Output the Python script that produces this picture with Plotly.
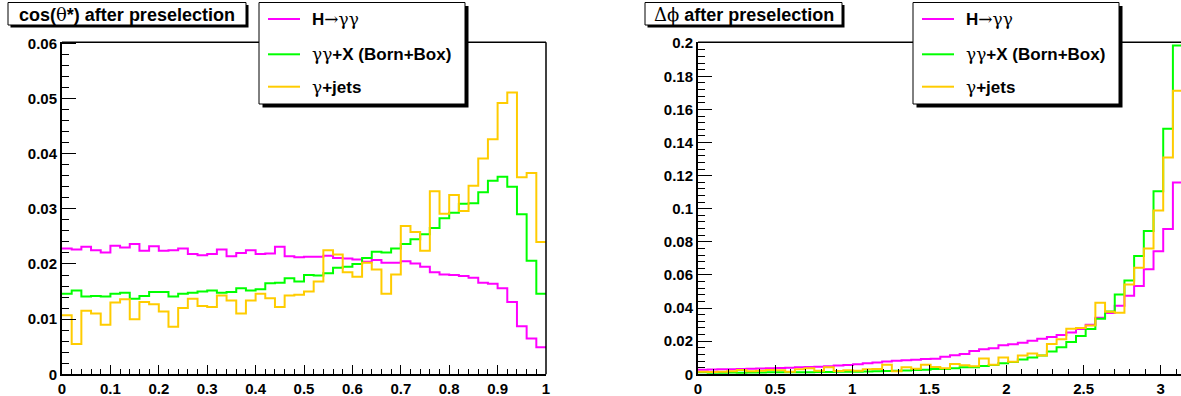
import numpy as np
import plotly.graph_objects as go

# ---------------- data ----------------
# cos(theta*) after preselection : 50 bins on [0, 1]
cos_bins = 50
cos_range = (0.0, 1.0)
cos_higgs = [0.0228, 0.0226, 0.0231, 0.0225, 0.0221, 0.0233, 0.0230, 0.0236, 0.0224, 0.0232,
             0.0224, 0.0225, 0.0228, 0.0218, 0.0216, 0.0218, 0.0226, 0.0214, 0.0220, 0.0225,
             0.0218, 0.0219, 0.0231, 0.0214, 0.0212, 0.0213, 0.0213, 0.0215, 0.0211, 0.0210,
             0.0208, 0.0204, 0.0207, 0.0202, 0.0202, 0.0205, 0.0201, 0.0195, 0.0185, 0.0181,
             0.0180, 0.0178, 0.0175, 0.0166, 0.0164, 0.0156, 0.0131, 0.0087, 0.0065, 0.0049]
cos_diphoton = [0.0146, 0.0152, 0.0141, 0.0142, 0.0141, 0.0146, 0.0148, 0.0137, 0.0142, 0.0149,
                0.0149, 0.0141, 0.0146, 0.0148, 0.0150, 0.0152, 0.0148, 0.0149, 0.0156, 0.0152,
                0.0154, 0.0165, 0.0166, 0.0174, 0.0168, 0.0180, 0.0179, 0.0183, 0.0193, 0.0195,
                0.0200, 0.0211, 0.0222, 0.0221, 0.0228, 0.0236, 0.0245, 0.0254, 0.0265, 0.0283,
                0.0293, 0.0309, 0.0310, 0.0330, 0.0351, 0.0358, 0.0340, 0.0290, 0.0206, 0.0146]
cos_gjets = [0.0107, 0.0055, 0.0115, 0.0110, 0.0090, 0.0130, 0.0136, 0.0100, 0.0131, 0.0127,
             0.0114, 0.0086, 0.0120, 0.0137, 0.0124, 0.0122, 0.0143, 0.0134, 0.0110, 0.0134,
             0.0146, 0.0138, 0.0122, 0.0143, 0.0144, 0.0150, 0.0168, 0.0225, 0.0217, 0.0185,
             0.0177, 0.0202, 0.0190, 0.0146, 0.0181, 0.0269, 0.0258, 0.0224, 0.0332, 0.0291,
             0.0325, 0.0296, 0.0342, 0.0391, 0.0426, 0.0492, 0.0511, 0.0357, 0.0365, 0.0240]

# Delta phi after preselection : 50 bins on [0, pi]
dphi_bins = 50
dphi_range = (0.0, np.pi)
dphi_higgs = [0.0028, 0.0029, 0.0030, 0.0031, 0.0032, 0.0033, 0.0035, 0.0036, 0.0038, 0.0040,
              0.0042, 0.0044, 0.0046, 0.0049, 0.0053, 0.0056, 0.0060, 0.0066, 0.0072, 0.0077,
              0.0082, 0.0085, 0.0088, 0.0092, 0.0094, 0.0106, 0.0115, 0.0123, 0.0141, 0.0151,
              0.0157, 0.0175, 0.0181, 0.0191, 0.0203, 0.0215, 0.0225, 0.0237, 0.0253, 0.0273,
              0.0300, 0.0342, 0.0370, 0.0414, 0.0474, 0.0534, 0.0635, 0.0744, 0.0877, 0.1158]
dphi_diphoton = [0.0012, 0.0010, 0.0010, 0.0011, 0.0010, 0.0011, 0.0011, 0.0012, 0.0012, 0.0013,
                 0.0012, 0.0013, 0.0014, 0.0014, 0.0015, 0.0015, 0.0016, 0.0017, 0.0018, 0.0020,
                 0.0021, 0.0023, 0.0026, 0.0028, 0.0032, 0.0032, 0.0036, 0.0042, 0.0042, 0.0050,
                 0.0056, 0.0066, 0.0074, 0.0090, 0.0102, 0.0114, 0.0137, 0.0163, 0.0195, 0.0231,
                 0.0274, 0.0335, 0.0380, 0.0482, 0.0567, 0.0715, 0.0866, 0.1106, 0.1483, 0.1986]
dphi_gjets = [0.0016, 0.0014, 0.0016, 0.0018, 0.0026, 0.0018, 0.0022, 0.0026, 0.0024, 0.0016,
              0.0030, 0.0036, 0.0022, 0.0042, 0.0020, 0.0024, 0.0022, 0.0030, 0.0032, 0.0058,
              0.0018, 0.0042, 0.0034, 0.0058, 0.0044, 0.0036, 0.0062, 0.0054, 0.0048, 0.0096,
              0.0058, 0.0102, 0.0076, 0.0114, 0.0126, 0.0114, 0.0183, 0.0211, 0.0275, 0.0279,
              0.0295, 0.0432, 0.0378, 0.0372, 0.0543, 0.0643, 0.0760, 0.0989, 0.1309, 0.1712]

GREEK = "<span style='font-family:DejaVu Serif;font-weight:normal'>%s</span>"
series_names = ["H" + GREEK % "\u2192\u03b3\u03b3",
                GREEK % "\u03b3\u03b3" + "+X (Born+Box)",
                GREEK % "\u03b3" + "+jets"]
series_plain = ["H\u2192\u03b3\u03b3", "\u03b3\u03b3+X (Born+Box)", "\u03b3+jets"]
series_colors = ["#ff00ff", "#00ff00", "#ffcc00"]
panel_titles = ["cos(" + GREEK % "\u03b8" + "*) after preselection",
                GREEK % "\u0394\u03d5" + " after preselection"]

# ---------------- layout helpers ----------------
W, H = 1181, 396
FONT = "Liberation Sans, Arial, Helvetica, sans-serif"


def px(x):
    return x / W


def py(y):
    return 1 - y / H


def step_xy(values, nbins, lo, hi):
    edges = np.linspace(lo, hi, nbins + 1)
    ys = list(values) + [values[-1]]
    return edges, ys


fig = go.Figure()

for vals, name, col in zip([cos_higgs, cos_diphoton, cos_gjets], series_plain, series_colors):
    xs, ys = step_xy(vals, cos_bins, *cos_range)
    fig.add_trace(go.Scatter(x=xs, y=ys, mode="lines", line=dict(shape="hv", color=col, width=2),
                             name=name, showlegend=False, xaxis="x", yaxis="y"))

for vals, name, col in zip([dphi_higgs, dphi_diphoton, dphi_gjets], series_plain, series_colors):
    xs, ys = step_xy(vals, dphi_bins, *dphi_range)
    fig.add_trace(go.Scatter(x=xs, y=ys, mode="lines", line=dict(shape="hv", color=col, width=2),
                             name=name, showlegend=False, xaxis="x2", yaxis="y2"))

tickfont = dict(family=FONT, size=15, color="black", weight="bold")
ydom = [py(374.3), py(42.2)]


def xaxis_cfg(domain, rng, dtick, mdtick, anchor):
    return dict(domain=domain, range=rng, anchor=anchor, showline=True, linewidth=2, linecolor="black",
                ticks="inside", ticklen=9, tickwidth=1, tickcolor="black", tick0=0, dtick=dtick,
                minor=dict(ticks="inside", ticklen=5, tickwidth=1, tickcolor="black", dtick=mdtick,
                           tick0=0, showgrid=False),
                showgrid=False, zeroline=False, tickfont=tickfont, fixedrange=True, automargin=False)


def yaxis_cfg(rng, dtick, mdtick, anchor):
    return dict(domain=ydom, range=rng, anchor=anchor, showline=True, linewidth=2, linecolor="black",
                ticks="inside", ticklen=14, tickwidth=1, tickcolor="black", tick0=0, dtick=dtick,
                minor=dict(ticks="inside", ticklen=7, tickwidth=1, tickcolor="black", dtick=mdtick,
                           tick0=0, showgrid=False),
                showgrid=False, zeroline=False, tickfont=tickfont, fixedrange=True, automargin=False)


x2_right = (W - 698.0) / 154.25

fig.update_layout(
    width=W, height=H,
    margin=dict(l=0, r=0, t=0, b=0, pad=0, autoexpand=False),
    paper_bgcolor="white", plot_bgcolor="white",
    xaxis=xaxis_cfg([px(62), px(546)], [0, 1], 0.1, 0.02, "y"),
    yaxis=yaxis_cfg([0, 0.0602], 0.01, 0.002, "x"),
    xaxis2=xaxis_cfg([px(698), 1.0], [0, x2_right], 0.5, 0.1, "y2"),
    yaxis2=yaxis_cfg([0, 0.2006], 0.02, 0.004, "x2"),
    showlegend=False,
)

shapes = []
annotations = []

# frame lines (top for both, right for the left panel)
shapes.append(dict(type="line", xref="paper", yref="paper", x0=px(62), x1=px(546), y0=ydom[1], y1=ydom[1],
                   line=dict(color="black", width=1.5), layer="above"))
shapes.append(dict(type="line", xref="paper", yref="paper", x0=px(546), x1=px(546), y0=ydom[0], y1=ydom[1],
                   line=dict(color="black", width=1.5), layer="above"))
shapes.append(dict(type="line", xref="paper", yref="paper", x0=px(698), x1=1.0, y0=ydom[1], y1=ydom[1],
                   line=dict(color="black", width=1.5), layer="above"))


def box(x0, y0, x1, y1, shadow):
    shapes.append(dict(type="rect", xref="paper", yref="paper",
                       x0=px(x0 + shadow), x1=px(x1 + shadow), y0=py(y0 + shadow), y1=py(y1 + shadow),
                       fillcolor="black", line=dict(width=0), layer="above"))
    shapes.append(dict(type="rect", xref="paper", yref="paper",
                       x0=px(x0), x1=px(x1), y0=py(y0), y1=py(y1),
                       fillcolor="white", line=dict(color="black", width=1), layer="above"))


# title boxes
for (bx0, bx1), title in zip([(8, 246), (645, 842)], panel_titles):
    box(bx0, 2.5, bx1, 25, 2.5)
    annotations.append(dict(xref="paper", yref="paper", x=px((bx0 + bx1) / 2), y=py(14), text=title,
                            showarrow=False, xanchor="center", yanchor="middle",
                            font=dict(family=FONT, size=18, color="black", weight="bold")))

# legends
entry_y = [19, 54.3, 86.7]
for lx0 in [259, 913]:
    box(lx0, 2.5, lx0 + 206, 104, 3.5)
    for yy, name, col in zip(entry_y, series_names, series_colors):
        shapes.append(dict(type="line", xref="paper", yref="paper", x0=px(lx0 + 9), x1=px(lx0 + 41),
                           y0=py(yy), y1=py(yy), line=dict(color=col, width=2), layer="above"))
        annotations.append(dict(xref="paper", yref="paper", x=px(lx0 + 51), y=py(yy), text=name,
                                showarrow=False, xanchor="left", yanchor="middle",
                                font=dict(family=FONT, size=17, color="black", weight="bold")))

fig.update_layout(shapes=shapes, annotations=annotations)
fig.write_html("out.html", config={"displayModeBar": False, "staticPlot": True},
               post_script="document.body.style.margin='0';document.body.style.overflow='hidden';")
